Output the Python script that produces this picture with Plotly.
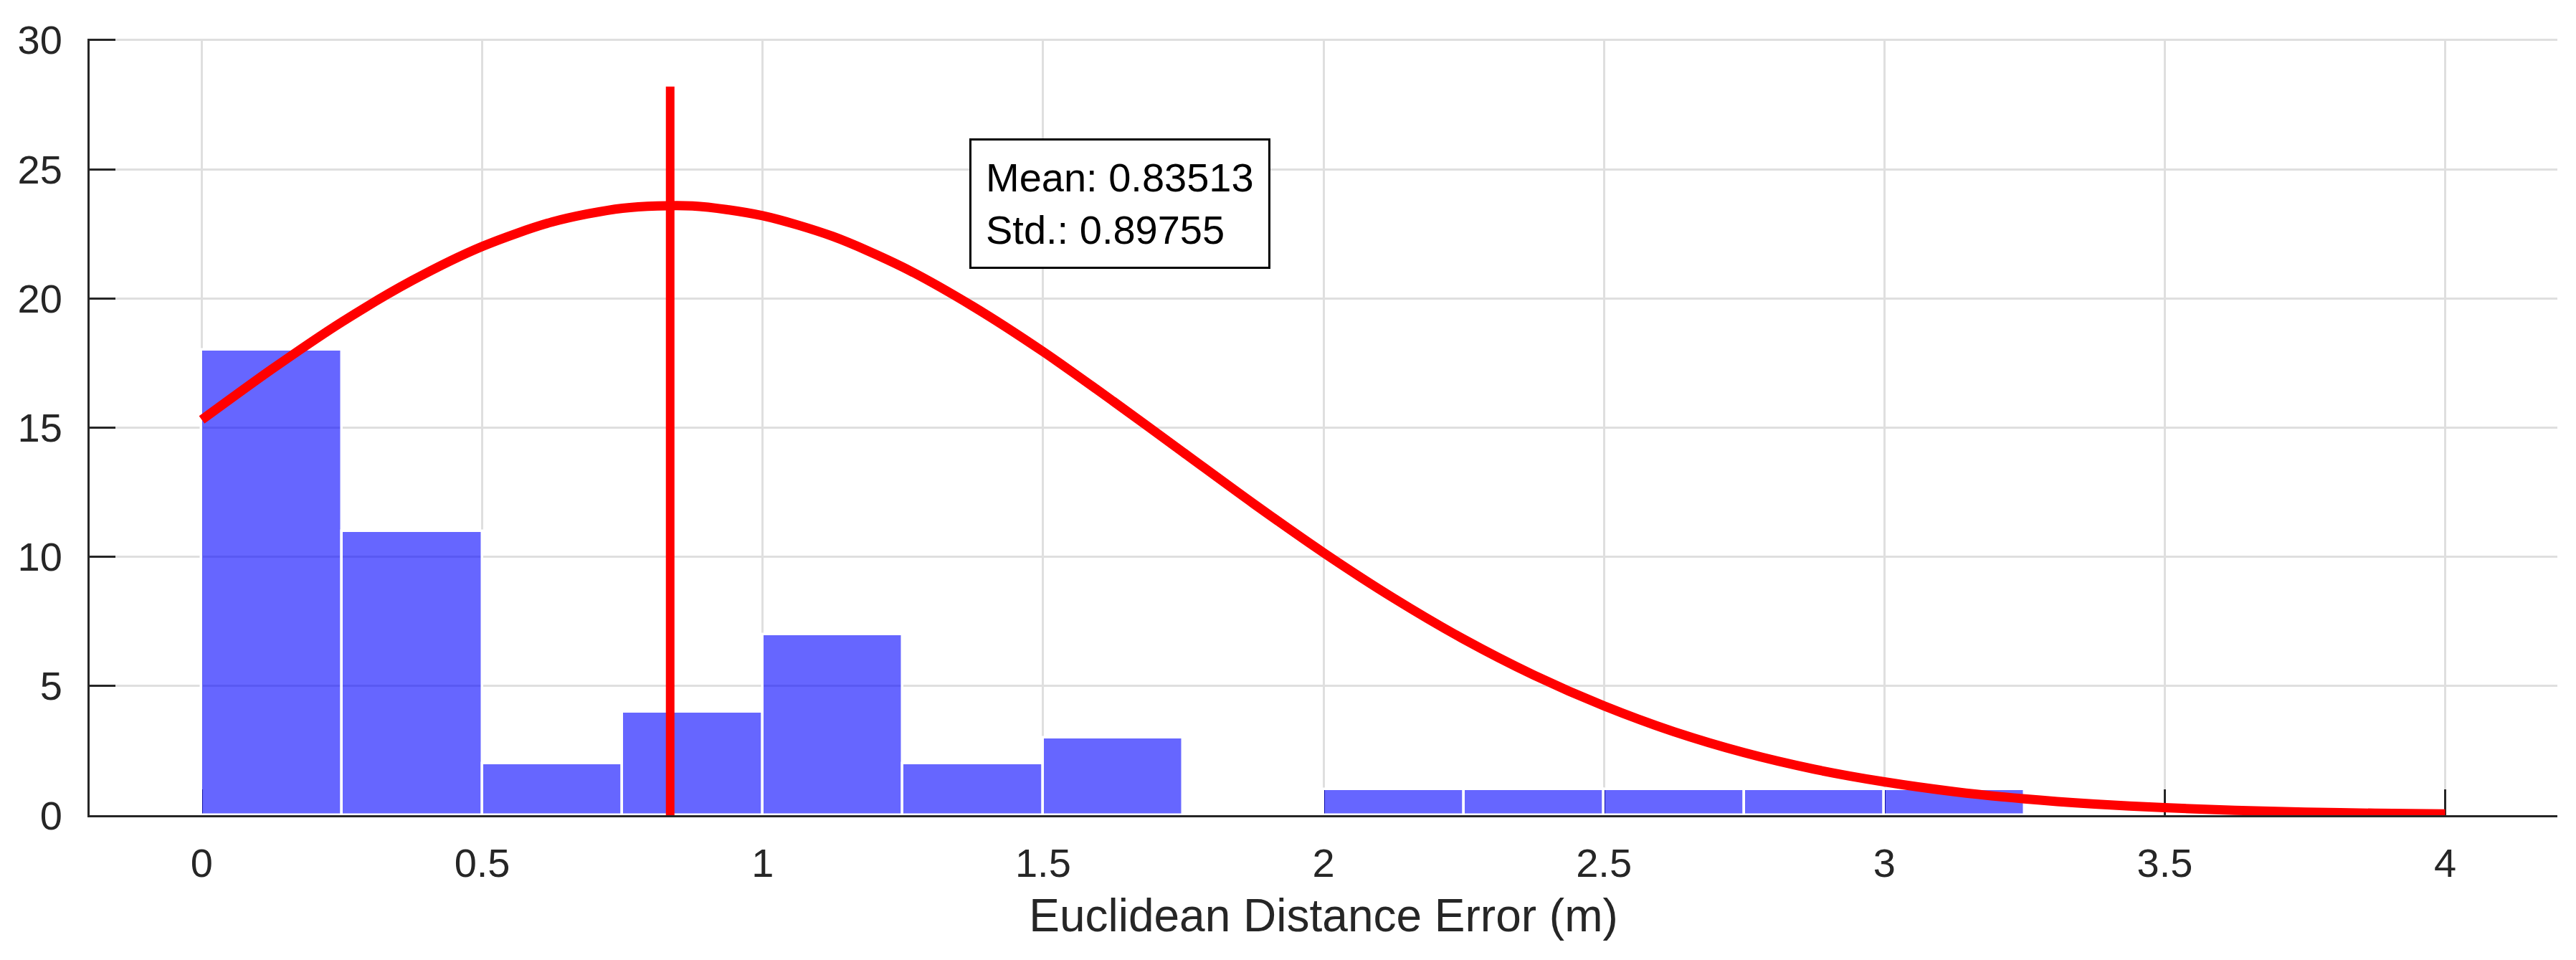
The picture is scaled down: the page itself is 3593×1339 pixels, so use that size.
import plotly.graph_objects as go

# histogram of the error, bin width 0.25 m
bin_centers = [0.125, 0.375, 0.625, 0.875, 1.125, 1.375, 1.625, 1.875,
               2.125, 2.375, 2.625, 2.875, 3.125]
bin_counts = [18, 11, 2, 4, 7, 2, 3, 0, 1, 1, 1, 1, 1]
bin_width = 0.25

# fitted curve, every 0.125 m
curve_x = [0, 0.125, 0.25, 0.375, 0.5, 0.625, 0.75, 0.875, 1.0, 1.125,
           1.25, 1.375, 1.5, 1.625, 1.75, 1.875, 2.0, 2.125, 2.25, 2.375,
           2.5, 2.625, 2.75, 2.875, 3.0, 3.125, 3.25, 3.375, 3.5, 3.625,
           3.75, 3.875, 4.0]
curve_y = [15.3, 17.26, 19.09, 20.69, 22.01, 22.96, 23.49, 23.58, 23.2, 22.4,
           21.21, 19.69, 17.94, 16.02, 14.04, 12.06, 10.16, 8.4, 6.81, 5.42,
           4.23, 3.23, 2.42, 1.78, 1.29, 0.91, 0.63, 0.43, 0.29, 0.19,
           0.12, 0.076, 0.047]

mean_err = 0.83513
std_err = 0.89755
mean_line_top = 28.2

FONT = "Liberation Sans, Arial, sans-serif"
TXT = "#262626"

fig = go.Figure()

fig.add_trace(go.Bar(
    x=bin_centers, y=bin_counts, width=bin_width,
    marker=dict(color="rgba(0,0,255,0.6)",
                line=dict(color="white", width=3.5)),
    showlegend=False, hoverinfo="skip",
))

fig.add_trace(go.Scatter(
    x=curve_x, y=curve_y, mode="lines",
    line=dict(color="#FF0000", width=13, shape="spline", smoothing=0.8),
    showlegend=False,
))

fig.add_trace(go.Scatter(
    x=[mean_err, mean_err], y=[0, mean_line_top], mode="lines",
    line=dict(color="#FF0000", width=12),
    showlegend=False,
))

fig.add_annotation(
    x=1.368, y=26.2, xref="x", yref="y",
    xanchor="left", yanchor="top", align="left",
    text=f"Mean: {mean_err}<br>Std.: {std_err}",
    showarrow=False,
    font=dict(family=FONT, size=56, color="black"),
    bgcolor="white", bordercolor="black", borderwidth=3, borderpad=20,
)

axis_common = dict(
    showline=True, linecolor=TXT, linewidth=3,
    ticks="inside", ticklen=36, tickwidth=3, tickcolor=TXT,
    showgrid=True, gridcolor="#DFDFDF", gridwidth=3,
    zeroline=False, layer="below traces",
    tickfont=dict(family=FONT, size=56, color=TXT),
)

fig.update_xaxes(
    range=[-0.2, 4.2], dtick=0.5, tick0=0,
    ticklabelstandoff=16,
    title=dict(text="Euclidean Distance Error (m)",
               font=dict(family=FONT, size=64, color=TXT), standoff=20),
    **axis_common,
)
fig.update_yaxes(
    range=[0, 30.05], dtick=5, tick0=0,
    ticklabelstandoff=24,
    **axis_common,
)

fig.update_layout(
    width=3593, height=1339,
    margin=dict(l=117, r=34, t=46, b=210),
    plot_bgcolor="white", paper_bgcolor="white",
    bargap=0, showlegend=False,
    font=dict(family=FONT, color=TXT),
)

fig.write_html("out.html")
